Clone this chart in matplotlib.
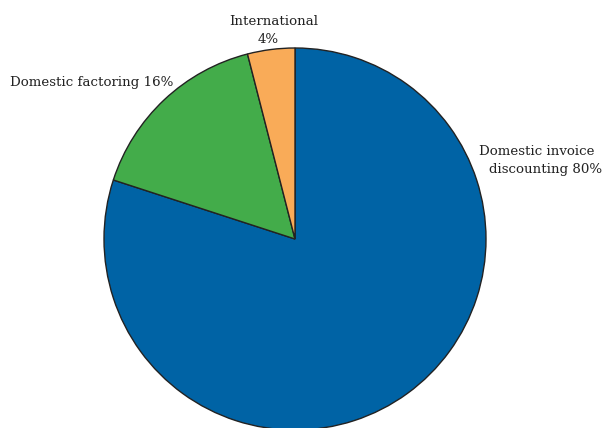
import matplotlib.pyplot as plt

shares = [80, 16, 4]
colors = ['#0063a5', '#43ac4a', '#f9ab58']
label_lines = [
    ['Domestic invoice', 'discounting 80%'],
    ['Domestic factoring 16%'],
    ['International', '4%'],
]

fig = plt.figure(figsize=(6.07, 4.28), dpi=100)
ax = fig.add_axes([0, 0, 1, 1])
ax.set_xlim(0, 607)
ax.set_ylim(0, 428)
ax.set_aspect('equal')
ax.axis('off')

ax.pie(shares, colors=colors, startangle=90, counterclock=False,
       center=(295, 189), radius=191,
       wedgeprops=dict(edgecolor='#222222', linewidth=1.0))
ax.set_xlim(0, 607)
ax.set_ylim(0, 428)

font = dict(family='DejaVu Serif', fontsize=9.6, color='#222222')
# slice labels sit outside the pie
ax.text(479, 277, label_lines[0][0], ha='left', va='center', **font)
ax.text(489, 259, label_lines[0][1], ha='left', va='center', **font)
ax.text(173, 346, label_lines[1][0], ha='right', va='center', **font)
ax.text(274, 407, label_lines[2][0], ha='center', va='center', **font)
ax.text(268, 389, label_lines[2][1], ha='center', va='center', **font)

fig.savefig('out.png', dpi=100)
